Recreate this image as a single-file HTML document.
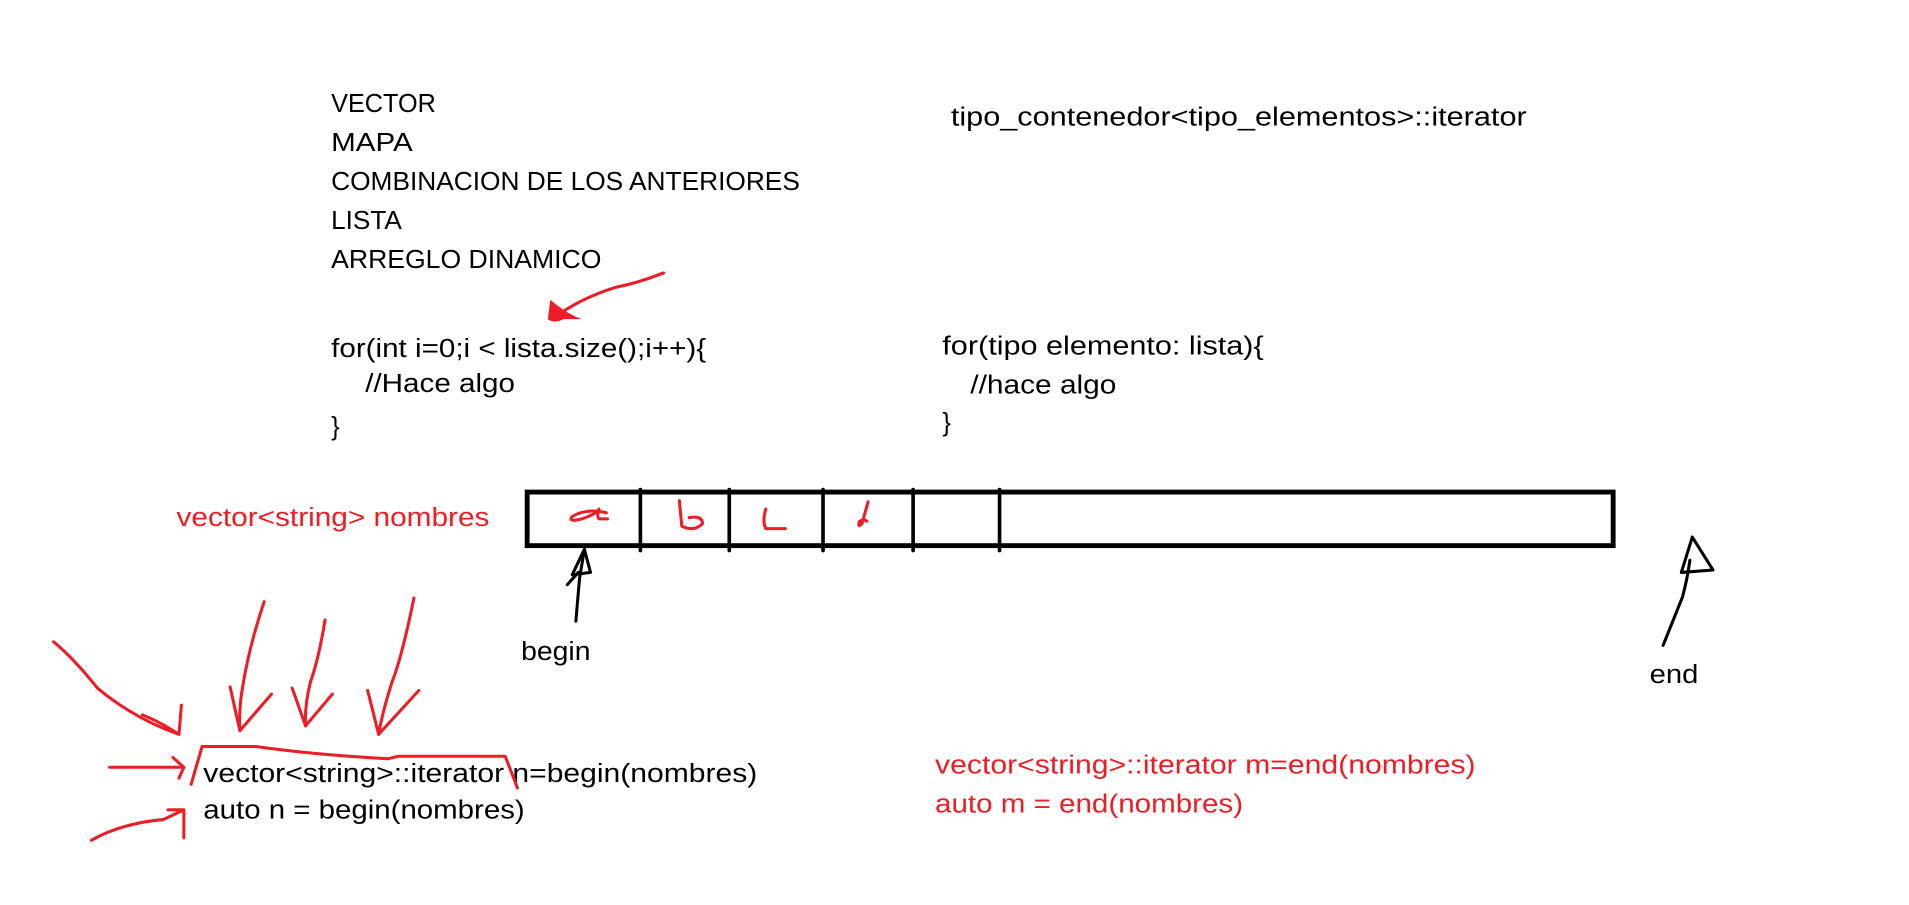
<!DOCTYPE html>
<html><head><meta charset="utf-8"><style>
html,body{margin:0;padding:0;background:#fff;}
svg{display:block;}
text{font-family:"Liberation Sans",sans-serif;font-size:21px;}
.r{fill:#ee1c24;}
</style></head><body>
<svg width="1909" height="905" viewBox="0 0 1568 743" xmlns="http://www.w3.org/2000/svg">
<rect width="1568" height="743" fill="#fff"/>
<g fill="#000">
<text x="272" y="92" textLength="86" lengthAdjust="spacingAndGlyphs">VECTOR</text>
<text x="272" y="124" textLength="67" lengthAdjust="spacingAndGlyphs">MAPA</text>
<text x="272" y="156" textLength="385" lengthAdjust="spacingAndGlyphs">COMBINACION DE LOS ANTERIORES</text>
<text x="272" y="188" textLength="58" lengthAdjust="spacingAndGlyphs">LISTA</text>
<text x="272" y="220" textLength="222" lengthAdjust="spacingAndGlyphs">ARREGLO DINAMICO</text>
<text x="781" y="103" textLength="473" lengthAdjust="spacingAndGlyphs">tipo_contenedor&lt;tipo_elementos&gt;::iterator</text>
<text x="272" y="293" textLength="308" lengthAdjust="spacingAndGlyphs">for(int i=0;i &lt; lista.size();i++){</text>
<text x="300" y="322" textLength="123" lengthAdjust="spacingAndGlyphs">//Hace algo</text>
<text x="272" y="357">}</text>
<text x="774" y="291" textLength="264" lengthAdjust="spacingAndGlyphs">for(tipo elemento: lista){</text>
<text x="797" y="323" textLength="120" lengthAdjust="spacingAndGlyphs">//hace algo</text>
<text x="774" y="354">}</text>
<text x="428" y="542" textLength="57" lengthAdjust="spacingAndGlyphs">begin</text>
<text x="1355" y="561" textLength="40" lengthAdjust="spacingAndGlyphs">end</text>
<text x="167" y="642" textLength="455" lengthAdjust="spacingAndGlyphs">vector&lt;string&gt;::iterator n=begin(nombres)</text>
<text x="167" y="672" textLength="264" lengthAdjust="spacingAndGlyphs">auto n = begin(nombres)</text>
</g>
<text class="r" x="145" y="432" textLength="257" lengthAdjust="spacingAndGlyphs">vector&lt;string&gt; nombres</text>
<text class="r" x="768" y="635" textLength="444" lengthAdjust="spacingAndGlyphs">vector&lt;string&gt;::iterator m=end(nombres)</text>
<text class="r" x="768" y="667" textLength="253" lengthAdjust="spacingAndGlyphs">auto m = end(nombres)</text>

<!-- array -->
<rect x="433" y="404" width="892" height="44" fill="none" stroke="#000" stroke-width="4"/>
<g stroke="#000" stroke-width="3" stroke-linecap="round">
<line x1="526" y1="402" x2="526" y2="452"/>
<line x1="599" y1="402" x2="599" y2="452"/>
<line x1="676" y1="402" x2="676" y2="452"/>
<line x1="750" y1="402" x2="750" y2="452"/>
<line x1="821" y1="402" x2="821" y2="452"/>
</g>
<g fill="none" stroke="#ee1c24" stroke-width="2.5" stroke-linecap="round" stroke-linejoin="round">
<path d="M498 421 Q482 417 470 424 Q466 429 478 426 Q490 422 492 418 Q490 424 492 426 L499 426"/>
<path d="M558 411 L560 432 Q570 437 577 430 Q577 423 566 425"/>
<path d="M629 418 Q626 428 629 434 L645 434"/>
<path d="M713 412 L708 430 Q704 434 706 428 Q710 426 712 428"/>
<!-- red arrow top -->
<path d="M545 224 Q525 232 505 236 Q480 244 462 256"/>
<!-- red arrows bottom left -->
<path d="M44 527 Q60 540 80 565 Q110 590 147 603"/>
<path d="M117 587 Q130 592 147 603 L149 579"/>
<path d="M217 494 Q205 530 200 560 Q196 580 197 600"/>
<path d="M189 564 L197 600 L223 570"/>
<path d="M267 509 Q262 540 255 560 Q250 580 251 596"/>
<path d="M240 565 L251 596 L273 570"/>
<path d="M340 491 Q330 540 322 560 Q314 585 311 603"/>
<path d="M302 567 L311 603 L344 567"/>
<path d="M90 630 L151 630"/>
<path d="M142 622 L151 630 L147 639"/>
<path d="M75 690 Q100 676 134 673 L151 665"/>
<path d="M138 665 L151 665 L151 688"/>
<path d="M157 644 L166 613 L210 613 Q260 620 319 623 L327 621 L415 621 L425 647"/>
</g>
<path d="M452 246 Q466 258 478 262 L463 262 Q455 266 450 262 Z" fill="#ee1c24"/>
<!-- begin arrow -->
<g fill="none" stroke="#000" stroke-width="2.5" stroke-linecap="round" stroke-linejoin="round">
<path d="M473 510 L476 475 L480 451"/>
<path d="M480 451 L485 470 L470 472 L480 451 M466 480 L475 470"/>
<!-- end arrow -->
<path d="M1366 530 Q1374 510 1382 490 Q1386 475 1388 460"/>
<path d="M1390 441 L1407 468 L1381 470 Z"/>
</g>
</svg>
</body></html>
